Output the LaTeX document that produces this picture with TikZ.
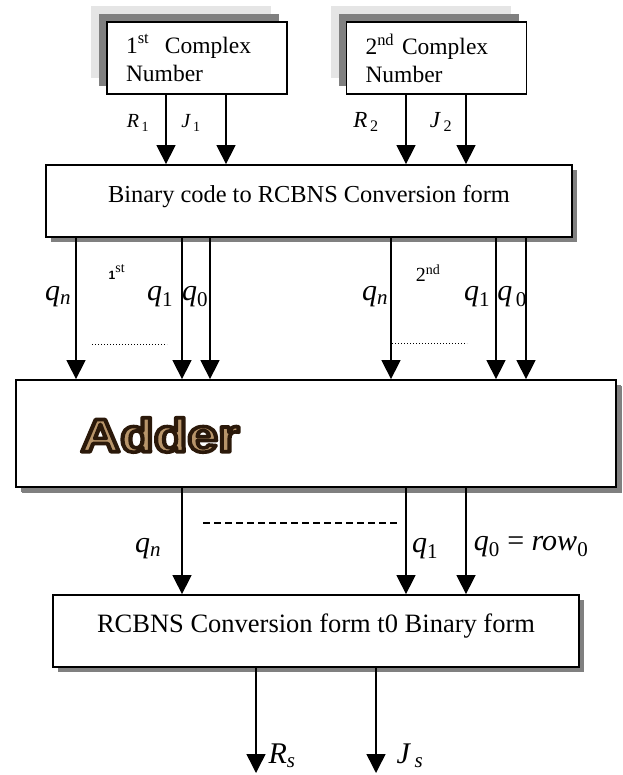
\documentclass[tikz,border=0pt]{standalone}
\usepackage{fontspec}
\setmainfont{Liberation Serif}
\setsansfont{Liberation Sans}
\usepackage{graphicx}
\usetikzlibrary{arrows.meta,shadows}

\definecolor{shadegray}{gray}{0.5}
\definecolor{shadelight}{gray}{0.9}
\definecolor{woodtan}{HTML}{B8956A}
\definecolor{wooddark}{HTML}{2B1A0A}

% italic symbol with a subscript
\newcommand{\idx}[2]{\textit{#1}\textsubscript{#2}}
% filled and stroked letters for the adder title
\newcommand{\outlined}[1]{\special{pdf:literal direct 2 Tr 3.6 w 1 j 0.17 0.10 0.04 RG}#1\special{pdf:literal direct 0 Tr}}

\begin{document}
\begin{tikzpicture}
    [
      x=1pt, y=-1pt,
      numbox/.style={draw, fill=white, line width=1.8pt, align=left,
        text width=142pt, inner xsep=19pt, minimum height=72pt,
        font=\fontsize{23.5}{28}\selectfont,
        general shadow={shadow xshift=-16pt, shadow yshift=16pt, fill=shadelight},
        general shadow={shadow xshift=-8pt, shadow yshift=8pt, fill=shadegray}},
      stagebox/.style={draw, fill=white, line width=1.8pt, inner sep=0pt,
        drop shadow={shadow xshift=5pt, shadow yshift=-5pt, opacity=1, fill=shadegray}},
      flow/.style={-{Triangle[width=19pt,length=19pt]}, line width=1.5pt},
      qlbl/.style={font=\fontsize{30}{30}\selectfont, inner sep=0pt},
    ]

    % input numbers
    \node (cn1) [numbox] at (197,58) {1\textsuperscript{st} \ Complex\\Number};
    \node (cn2) [numbox] at (436.5,58) {2\textsuperscript{nd} Complex\\Number};

    % processing stages
    \node (conv) [stagebox, minimum width=526pt, minimum height=72pt,
      text height=12pt, text depth=8pt, font=\fontsize{24.4}{28}\selectfont]
      at (309,201) {Binary code to RCBNS Conversion form};
    \node (adder) [stagebox, minimum width=600pt, minimum height=107pt,
      drop shadow={shadow xshift=6pt, shadow yshift=-6pt, opacity=1, fill=shadegray}]
      at (316,433.5) {};
    \node (back) [stagebox, minimum width=526pt, minimum height=72pt,
      text height=12pt, text depth=10pt, font=\fontsize{26.5}{30}\selectfont]
      at (316,631) {RCBNS Conversion form t0 Binary form};

    % word art title of the adder
    \node (adder-lbl) [text=woodtan, font=\sffamily\bfseries\fontsize{47}{47}\selectfont]
      at (160,435) {\outlined{\scalebox{1.17}[1]{Adder}}};

    % R and J parts into the converter
    \foreach \x/\src in {166/cn1, 226/cn1, 406/cn2, 466/cn2}
      \draw [flow] (\src.south -| \x,0) -- (conv.north -| \x,0);

    % digits into the adder
    \foreach \x in {76, 182, 210, 391, 496, 526}
      \draw [flow] (conv.south -| \x,0) -- (adder.north -| \x,0);

    % sum digits into the back conversion
    \foreach \x in {182, 406, 466}
      \draw [flow] (adder.south -| \x,0) -- (back.north -| \x,0);

    % result
    \coordinate (rs-end) at (256,773);
    \coordinate (js-end) at (376,773);
    \draw [flow] (back.south -| rs-end) -- (rs-end);
    \draw [flow] (back.south -| js-end) -- (js-end);

    % labels
    \node (r1-lbl) [font=\fontsize{20}{20}\selectfont] at (138,123) {\idx{R}{\,1}};
    \node (j1-lbl) [font=\fontsize{20}{20}\selectfont] at (191,123) {\idx{J}{\,1}};
    \node (r2-lbl) [font=\fontsize{23}{23}\selectfont] at (366,122) {\idx{R}{\,2}};
    \node (j2-lbl) [font=\fontsize{23}{23}\selectfont] at (441,122) {\idx{J}{\,2}};

    \node (first-lbl) [font=\fontsize{20}{20}\selectfont] at (117,272)
      {{\sffamily\bfseries\fontsize{12}{12}\selectfont 1}\textsuperscript{st}};
    \node (second-lbl) [font=\fontsize{20}{20}\selectfont] at (428,273) {2\textsuperscript{nd}};

    \node (qn-a) [qlbl] at (58,297) {\idx{q}{\textit{n}}};
    \node (q1-a) [qlbl] at (160,297) {\idx{q}{1}};
    \node (q0-a) [qlbl] at (195,297) {\idx{q}{0}};
    \node (qn-b) [qlbl] at (375,297) {\idx{q}{\textit{n}}};
    \node (q1-b) [qlbl] at (477,297) {\idx{q}{1}};
    \node (q0-b) [qlbl] at (512,297) {\idx{q}{\,0}};

    \node (qn-c) [qlbl] at (148,549) {\idx{q}{\textit{n}}};
    \node (q1-c) [qlbl] at (425,549) {\idx{q}{1}};
    \node (q0-c) [qlbl] at (531,547) {\idx{q}{0} = \idx{row}{0}};

    \node (rs-lbl) [qlbl] at (282,756) {\idx{R}{\textit{s}}};
    \node (js-lbl) [qlbl] at (410,756) {\idx{J}{\,\textit{s}}};

    % elided digit runs
    \draw [dotted, line width=1pt] (92,344) -- (167,344);
    \draw [dotted, line width=1pt] (392,343) -- (467,343);
    \draw [dash pattern=on 7pt off 4pt, line width=1.2pt] (203,523) -- (399,523);

    \useasboundingbox (0,0) rectangle (622,775);
  \end{tikzpicture}
\end{document}
